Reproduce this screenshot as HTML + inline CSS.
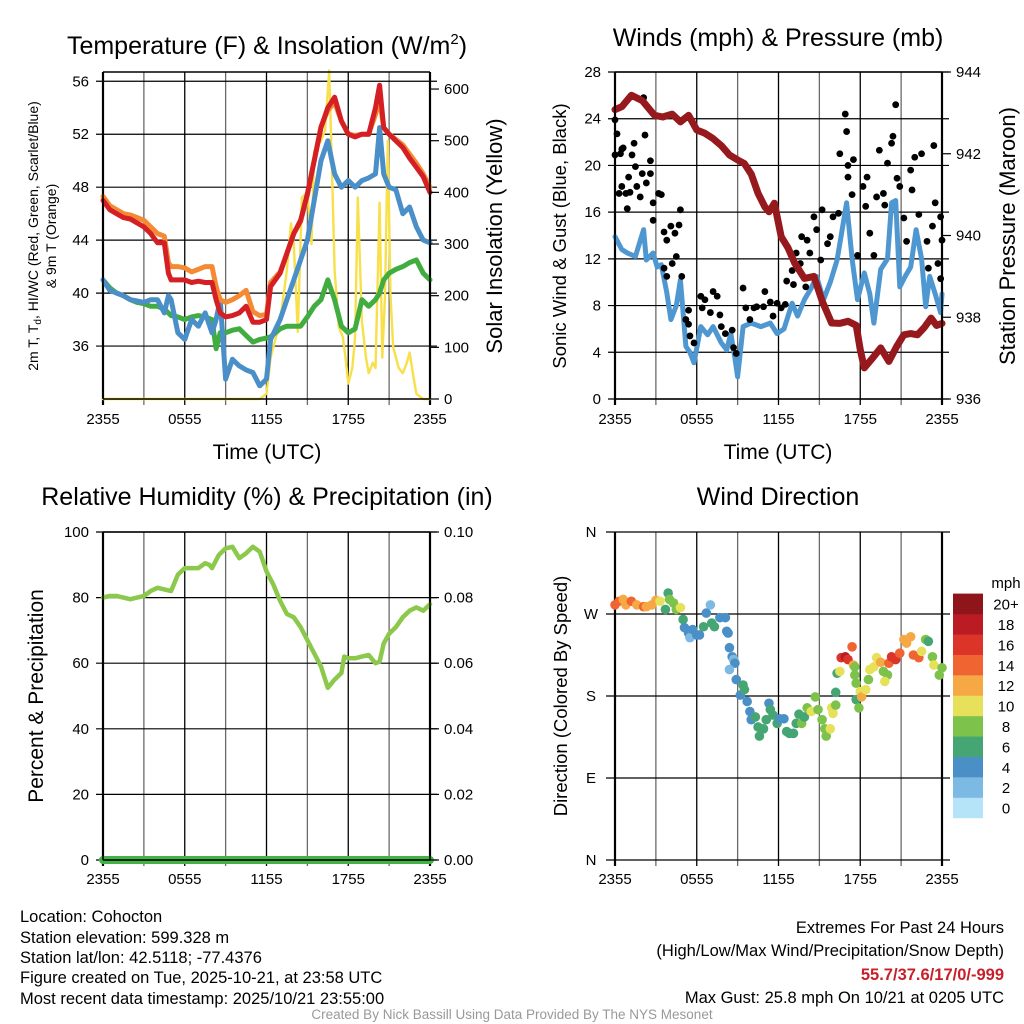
<!DOCTYPE html>
<html><head><meta charset="utf-8"><style>
html,body{margin:0;padding:0;background:#fff;}
svg{display:block;font-family:"Liberation Sans",sans-serif;}
</style></head><body>
<svg id="fig" width="1024" height="1024" viewBox="0 0 1024 1024" xmlns="http://www.w3.org/2000/svg">
<rect width="1024" height="1024" fill="#fff"/>
<g id="grid"></g>
<g id="marks"></g>
<g id="axes"></g>
<!-- titles -->
<text x="267" y="54" font-size="25" text-anchor="middle">Temperature (F) &amp; Insolation (W/m<tspan font-size="15" dy="-10">2</tspan><tspan dy="10">)</tspan></text>
<text x="778" y="46" font-size="25" text-anchor="middle">Winds (mph) &amp; Pressure (mb)</text>
<text x="267" y="505" font-size="25" text-anchor="middle">Relative Humidity (%) &amp; Precipitation (in)</text>
<text x="778" y="505" font-size="25" text-anchor="middle">Wind Direction</text>
<!-- axis titles -->
<text x="267" y="459" font-size="21" text-anchor="middle">Time (UTC)</text>
<text x="778" y="459" font-size="21" text-anchor="middle">Time (UTC)</text>
<text transform="translate(38,236) rotate(-90)" font-size="14" text-anchor="middle">2m T, T<tspan font-size="10" dy="3">d</tspan><tspan dy="-3">, HI/WC (Red, Green, Scarlet/Blue)</tspan></text>
<text transform="translate(56,236) rotate(-90)" font-size="14" text-anchor="middle">&amp; 9m T (Orange)</text>
<text transform="translate(502,236) rotate(-90)" font-size="22" text-anchor="middle">Solar Insolation (Yellow)</text>
<text transform="translate(566,236) rotate(-90)" font-size="18.5" text-anchor="middle">Sonic Wind &amp; Gust (Blue, Black)</text>
<text transform="translate(1015,236) rotate(-90)" font-size="22" text-anchor="middle">Station Pressure (Maroon)</text>
<text transform="translate(43,696) rotate(-90)" font-size="21" text-anchor="middle">Percent &amp; Precipitation</text>
<text transform="translate(567,696) rotate(-90)" font-size="18.5" text-anchor="middle">Direction (Colored By Speed)</text>
<!-- colorbar -->
<g id="cbar"></g>
<text x="1006" y="588" font-size="15" text-anchor="middle">mph</text>
<!-- footer -->
<g font-size="16.5">
<text x="20" y="922">Location: Cohocton</text>
<text x="20" y="943">Station elevation: 599.328 m</text>
<text x="20" y="963">Station lat/lon: 42.5118; -77.4376</text>
<text x="20" y="983">Figure created on Tue, 2025-10-21, at 23:58 UTC</text>
<text x="20" y="1004">Most recent data timestamp: 2025/10/21 23:55:00</text>
</g>
<g font-size="16.5" text-anchor="end">
<text x="1004" y="933">Extremes For Past 24 Hours</text>
<text x="1004" y="956">(High/Low/Max Wind/Precipitation/Snow Depth)</text>
<text x="1004" y="980" fill="#c8202a" font-weight="bold">55.7/37.6/17/0/-999</text>
<text x="1004" y="1003">Max Gust: 25.8 mph On 10/21 at 0205 UTC</text>
</g>
<text x="512" y="1019" font-size="13.5" fill="#999" text-anchor="middle">Created By Nick Bassill Using Data Provided By The NYS Mesonet</text>
</svg>
<script>
// ---------- data ----------
const xTickLabels = ["2355","0555","1155","1755","2355"];
const tempTicks = [36,40,44,48,52,56];
const solarTicks = [0,100,200,300,400,500,600];
const windTicks = [0,4,8,12,16,20,24,28];
const presTicks = [936,938,940,942,944];
const rhTicks = [0,20,40,60,80,100];
const precipTicks = ["0.00","0.02","0.04","0.06","0.08","0.10"];
const dirLabels = ["N","E","S","W","N"];
const speedLabels = ["0","2","4","6","8","10","12","14","16","18","20+"];

const tempTimes = [0,0.5,1,1.5,2,2.5,3,3.5,4,4.5,4.8,5,5.5,6,6.5,7,7.5,8,8.3,8.6,9,9.5,10,10.5,11,11.5,12,12.3,13,13.5,14,14.5,15,15.5,16,16.5,17,17.5,18,18.5,19,19.5,20,20.3,20.6,21,21.5,22,22.5,23,23.5,24];
const tempRed = [47,46.3,46,45.7,45.6,45.3,45,44.5,43.8,43.8,41.5,41,41,41,40.8,40.9,40.8,40.8,39.5,38.5,38.2,38.3,38.5,39,37.8,37.8,38,40.5,41.5,43,44.5,45.5,47.5,50,52.5,54,54.8,53,52,51.8,52,52,54,55.7,52.5,52,51.5,51,50.2,49.5,48.8,47.6];
const tempOrange = [47.3,46.6,46.3,46,45.9,45.7,45.5,45,44.5,44.3,42.3,42,42,41.9,41.6,41.8,42,42,40.5,39.5,39.3,39.5,39.8,40.2,38.6,38.3,38.4,40.8,41.6,43,44.5,45.4,47.4,50,52.6,53.8,54.4,53,52,51.9,52,52,53.5,54.6,52.5,52,51.6,51.2,50.5,49.8,49,48];
const tempGreen = [41,40.4,40,39.8,39.5,39.3,39.2,39,39,38.8,38.5,38.3,38.2,38,38.2,38.3,38.2,38,35.8,37,37,37.2,37.3,36.8,36.3,36.5,36.6,36.7,37.3,37.5,37.5,37.5,38.2,39,39.5,41,39.5,37.5,37,37.3,39.5,39,39.5,40,41,41.5,41.8,42,42.3,42.5,41.5,41];
const tempBlue = [41,40.2,40,39.8,39.5,39.4,39.3,39.5,39.5,38.5,39.8,39.5,37,36.5,38,37.5,38.5,37,38,39.5,33.5,35,34.5,34.2,34,33,33.5,36.5,38,39.5,41,42.5,44,47,50,51.5,49,48,48.5,48,48.5,48.7,49,52.5,49,48,47.8,46,46.5,45,44,43.8];
const solarTimes = [0,11.5,12,12.3,12.7,13,13.5,13.8,14,14.3,14.6,15,15.3,15.5,16,16.3,16.6,16.8,17,17.3,17.6,17.8,18,18.3,18.5,18.7,19,19.3,19.5,19.8,20,20.3,20.5,20.7,20.9,21.1,21.3,21.7,22,22.3,22.5,22.8,23,23.5,24];
const solarValues = [0,0,10,80,120,150,250,340,300,130,390,400,300,480,500,520,636,450,250,140,120,80,30,60,120,390,150,80,50,70,60,380,80,200,500,200,100,60,50,70,90,40,10,0,0];

const windTimes = [0,0.5,0.9,1.5,2.1,2.3,2.8,3.1,3.4,3.8,4.1,4.5,4.8,5.2,5.5,5.8,6.3,6.8,7.2,7.8,8.2,8.5,8.8,9,9.4,10,10.7,11.4,11.9,12.4,13,13.4,13.9,14.4,14.8,15.3,15.8,16.3,16.6,17,17.4,17.8,18.3,18.7,19,19.5,20,20.3,20.6,20.9,21.3,21.7,22.1,22.5,22.8,23.1,23.5,23.9,24];
const windSonic = [13.9,12.8,12.5,12.2,14.5,11.9,12.5,11.3,11.5,9.1,6.8,8,10.2,4.5,4,3.1,6.2,5.5,6.2,4.8,4.2,5.6,3.5,1.9,6.2,6.5,6.2,6.5,5.6,6,8.2,7.1,8.5,9.5,10.5,8.5,10,11.9,14,16.8,12,8.5,10.8,9,6.5,11.1,12,16.8,17,9.6,10.5,11.3,14.5,12,7.9,10.5,9,7.4,9];
const gustTimes = [0,0.15,0,0.4,0.5,0.6,0.3,0.8,0.9,0.5,1,1.1,1.25,1.4,1.5,1.6,1.85,2,2.2,2.1,2.3,2.6,2.6,2.8,2.8,3.2,3.4,3.6,3.8,4.1,4.2,4.4,4.7,4.8,4.5,3.6,3.8,4.9,5.2,5.4,5.4,5.5,5.8,6.3,6.4,6.6,7,7.2,7.5,7.7,7.8,8.1,8.6,8.7,8.9,9.4,9.6,9.9,10.2,10.4,10.9,11,11.4,11.6,11.9,12.2,12.5,12.6,13,13.1,13.3,13.6,13.7,14,14.1,14.3,14.6,14.8,15.1,15.2,15.6,15.8,16,16.4,16.5,16.9,17,17.1,17.1,17.4,17.5,17.8,18.2,18.4,18.5,18.7,19,19.2,19.4,19.7,19.8,20,20.3,20.4,20.6,20.7,20.9,21.2,21.4,21.7,21.8,22,22.3,22.5,22.9,23,23.3,23.4,23.5,23.7,23.9,23.9,24];
const gustValues = [23.9,22.7,20.9,21,21.4,21.5,17.6,17.6,16.3,18.2,19,17.7,20.9,21.9,19.9,18.2,17.3,19.3,22.6,25.8,18.5,20.4,19.3,16.8,15.3,17.6,17.5,14.3,13.6,14.8,11.6,14.2,14.9,16.2,12.2,11.2,10.5,10.5,6.8,7.6,6.4,5.4,4.8,8.8,7.8,8.5,7.4,9.2,8.8,7.2,6.2,5.6,5.9,4.4,3.9,9.5,7.8,6.8,7.8,7.9,7.9,9.2,8.3,7.1,8.2,7.8,8.1,10.1,11,9.8,12.5,11.6,13.9,9.6,13.6,12.5,15.6,14.5,11.9,16.2,13.3,13.9,15.6,15.9,21,24.4,22.9,20,19,17.5,20.5,12.3,18.2,16.5,19,14.2,12.3,17.3,21.3,17.6,16.6,20.2,21.9,22.5,25.2,18.9,18.2,15.5,13.5,19.6,17.9,20.7,15.8,21,13.5,11.2,14.8,21.7,16.8,11.6,10.3,15.6,13.6];
const presTimes = [0,0.5,1.2,2,2.9,3.5,4.2,4.8,5.4,6,6.6,7.2,7.8,8.4,9,9.5,10,10.5,11,11.3,11.7,12.2,12.7,13.2,13.9,14.6,15.2,15.9,16.5,17.1,17.7,18,18.3,18.9,19.5,20.1,20.7,21.2,21.7,22.2,22.7,23.2,23.6,24];
const presValues = [943.08,943.15,943.43,943.3,942.94,942.9,942.97,942.78,942.94,942.58,942.5,942.37,942.2,941.97,941.85,941.76,941.5,941.03,940.7,940.58,940.79,939.97,939.7,939.32,938.95,939.0,938.4,937.86,937.85,937.9,937.8,937.2,936.76,937.0,937.25,936.92,937.3,937.57,937.6,937.57,937.75,937.98,937.8,937.85];

const rhTimes = [0,0.5,1,1.5,2,2.5,3,3.5,4,4.5,5,5.5,6,6.5,7,7.5,7.8,8,8.5,9,9.5,10,10.5,11,11.5,12,12.5,13,13.5,14,14.5,15,15.5,16,16.5,17,17.5,17.7,18,18.5,19,19.5,20,20.3,20.6,21,21.5,22,22.5,23,23.5,24];
const rhValues = [80,80.5,80.5,80,79.5,80,80.5,82,83,82.5,82,87,89,89,89,90.5,90,89,93,95,95.5,92,93.5,95.5,94,88,84,79,75,74,71,67,63,59,52.5,55,57,62,61.5,61.5,62,62.5,60,60.5,66,69,71,74,76,77,76,78];
const precipTimes = [0,24];
const precipValues = [0,0];

const dirTimes = [0,0.3,0.6,0.8,1.2,1.6,2.1,2.3,2.7,3.0,3.3,3.7,3.9,4.0,4.3,4.5,4.8,5.0,5.1,5.4,5.5,5.7,6.0,6.2,6.5,6.7,7.0,7.1,7.3,7.7,8.1,8.2,8.3,8.4,8.6,8.7,8.8,8.4,8.9,9.2,9.4,9.5,9.7,9.9,10.0,10.3,10.5,10.6,10.9,11.1,11.3,11.4,11.6,11.9,12.1,12.4,12.6,12.8,13.1,13.3,13.5,13.7,13.9,14.1,14.4,14.7,14.9,15.2,15.4,15.5,15.8,15.9,16.0,16.2,16.2,16.3,16.5,16.6,16.9,17.1,17.4,17.5,17.6,17.6,17.7,17.7,17.9,18.0,18.1,18.4,18.6,18.7,19.0,19.2,19.5,19.7,20.0,19.8,20.1,20.3,20.6,20.9,21.2,21.4,21.7,21.9,22.3,22.5,22.8,23.0,23.3,23.4,23.8,24.0];
const dirValues = [280,284,286,280,284,280,278,278,280,285,284,275,293,286,282,275,277,264,255,249,244,253,247,247,256,271,280,260,256,266,266,251,249,233,223,220,216,209,198,181,192,187,174,163,154,157,146,136,144,154,172,165,159,150,155,155,141,139,139,150,160,150,157,167,163,179,165,154,144,136,144,167,161,170,184,205,207,222,223,220,234,214,212,203,194,176,167,185,179,187,198,209,212,222,217,207,203,196,216,223,220,227,242,238,245,225,222,229,242,240,223,214,203,211];
const dirSpeeds = [14,14,12,12,14,12,14,12,12,12,10,6,6,8,8,8,10,6,4,4,2,4,4,4,6,4,2,6,6,4,4,4,4,4,4,2,4,2,4,4,6,6,4,4,4,6,6,6,6,6,4,6,6,6,4,4,6,6,6,6,6,8,6,8,10,8,8,8,8,8,10,10,10,8,6,6,10,16,18,16,14,12,8,8,8,6,8,10,12,10,8,10,10,10,12,8,8,10,14,16,16,14,12,12,12,14,14,10,8,6,8,10,8,8];

// ---------- helpers ----------
const NS="http://www.w3.org/2000/svg";
const G=document.getElementById('grid'), M=document.getElementById('marks'), A=document.getElementById('axes'), CB=document.getElementById('cbar');
function el(tag,parent){const e=document.createElementNS(NS,tag);parent.appendChild(e);return e;}
function line(p,x1,y1,x2,y2,stroke,w){const e=el('line',p);e.setAttribute('x1',x1);e.setAttribute('y1',y1);e.setAttribute('x2',x2);e.setAttribute('y2',y2);e.setAttribute('stroke',stroke);e.setAttribute('stroke-width',w);return e;}
function text(p,x,y,s,size,anchor){const e=el('text',p);e.setAttribute('x',x);e.setAttribute('y',y);e.setAttribute('font-size',size);e.setAttribute('text-anchor',anchor);e.textContent=s;return e;}
function scale(d0,d1,r0,r1){return v=>r0+(v-d0)/(d1-d0)*(r1-r0);}
function poly(p,xs,ys,fx,fy,color,w){const e=el('polyline',p);e.setAttribute('points',xs.map((t,i)=>fx(t).toFixed(1)+','+fy(ys[i]).toFixed(1)).join(' '));e.setAttribute('fill','none');e.setAttribute('stroke',color);e.setAttribute('stroke-width',w);e.setAttribute('stroke-linejoin','round');e.setAttribute('stroke-linecap','round');return e;}

// panel geometry
const P1={l:103,r:430,t:72,b:399}, P2={l:615,r:942,t:72,b:399}, P3={l:103,r:430,t:532,b:860}, P4={l:615,r:942,t:532,b:860};
const x1=scale(0,24,P1.l,P1.r), x2=scale(0,24,P2.l,P2.r), x3=scale(0,24,P3.l,P3.r), x4=scale(0,24,P4.l,P4.r);
const yT=scale(32,56.7,P1.b,P1.t), yS=scale(0,633,P1.b,P1.t);
const yW=scale(0,28,P2.b,P2.t), yP=scale(936,944,P2.b,P2.t);
const yR=scale(0,100,P3.b,P3.t), yPr=scale(0,0.1,P3.b,P3.t);
const yD=scale(0,360,P4.b,P4.t);

function vgrid(P,fx,ylabel){
  for(let h=0;h<=24;h+=3){
    const g=line(G,fx(h),P.t,fx(h),P.b+6,(h%6===0)?'#000':'#6a6a6a',(h===0||h===24)?2.2:1.3);
    
    
  }
  xTickLabels.forEach((s,i)=>{const t=text(A,fx(i*6),ylabel,s,15,'middle');
    
    });
}
function hgrid(P,fy,vals,labels,side,ext){
  vals.forEach((v,i)=>{const y=fy(v);
    const g=line(G,P.l-ext,y,P.r+ext,y,'#000',1.2);
    
    
    const t=side==='left'?text(A,P.l-14,y+5,labels[i],15,'end'):text(A,P.r+14,y+5,labels[i],15,'start');
    
    });
}
function rightTicks(P,fy,vals,labels){
  vals.forEach((v,i)=>{const y=fy(v);
    const g=line(A,P.r,y,P.r+9,y,'#000',1.2);
    
    
    const t=text(A,P.r+14,y+5,labels[i],15,'start');
    
    });
}
function frame(P){
  [[P.l,P.t,P.l,P.b],[P.r,P.t,P.r,P.b],[P.l,P.t,P.r,P.t],[P.l,P.b,P.r,P.b]].forEach(c=>{
    const f=line(A,c[0],c[1],c[2],c[3],'#000',1.6);
    
    });
}

// ---------- panel 1 ----------
vgrid(P1,x1,424);
hgrid(P1,yT,tempTicks,tempTicks.map(String),'left',7);
rightTicks(P1,yS,solarTicks,solarTicks.map(String));
frame(P1);
let s;
s=poly(M,solarTimes,solarValues,x1,yS,'#f7e04a',2.4);


s=poly(M,tempTimes,tempGreen,x1,yT,'#41ad41',5);


s=poly(M,tempTimes,tempBlue,x1,yT,'#4a8fc8',5);


s=poly(M,tempTimes,tempOrange,x1,yT,'#f58a35',5);


s=poly(M,tempTimes,tempRed,x1,yT,'#d42025',5);



// ---------- panel 2 ----------
vgrid(P2,x2,424);
hgrid(P2,yW,windTicks,windTicks.map(String),'left',7);
rightTicks(P2,yP,presTicks,presTicks.map(String));
frame(P2);
s=poly(M,windTimes,windSonic,x2,yW,'#4f97d1',5);


gustTimes.forEach((t,i)=>{const c=el('circle',M);c.setAttribute('cx',x2(t));c.setAttribute('cy',yW(gustValues[i]));c.setAttribute('r',3.4);c.setAttribute('fill','#000');
  
  });
s=poly(M,presTimes,presValues,x2,yP,'#961a1d',7);



// ---------- panel 3 ----------
vgrid(P3,x3,884);
hgrid(P3,yR,rhTicks,rhTicks.map(String),'left',7);
rightTicks(P3,yPr,[0,0.02,0.04,0.06,0.08,0.1],precipTicks);
frame(P3);
s=poly(M,rhTimes,rhValues,x3,yR,'#8cc84b',4.5);


s=poly(M,precipTimes,precipValues,x3,yPr,'#44b347',8);



// ---------- panel 4 ----------
vgrid(P4,x4,884);
[0,90,180,270,360].forEach((v,i)=>{const y=yD(v);
  const g=line(G,P4.l-9,y,P4.r+8,y,'#000',1.2);
  
  
  const t=text(A,591,y+5,dirLabels[i],15,'middle');
  
  });
const speedColors=['#b5e3f8','#7dbae3','#4a8fc6','#46a673','#7cc24b','#e7e05a','#f6a844','#ef6430','#dc3429','#bb1c24','#8e1519'];
dirTimes.forEach((t,i)=>{const c=el('circle',M);c.setAttribute('cx',x4(t));c.setAttribute('cy',yD(dirValues[i]));c.setAttribute('r',4.8);
  c.setAttribute('fill',speedColors[Math.min(10,Math.floor(dirSpeeds[i]/2))]);
  
  });
speedLabels.forEach((s2,i)=>{const y=818-(i+1)*20.4;
  const r=el('rect',CB);r.setAttribute('x',953);r.setAttribute('y',y);r.setAttribute('width',30);r.setAttribute('height',20.6);r.setAttribute('fill',speedColors[i]);
  
  
  const t=text(CB,1006,y+16,s2,15,'middle');
  
  });
</script>
</body></html>
